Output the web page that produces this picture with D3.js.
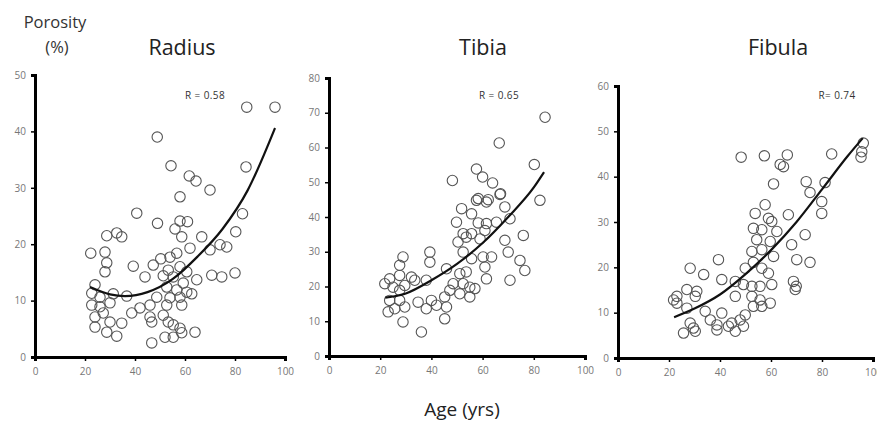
<!DOCTYPE html>
<html>
<head>
<meta charset="utf-8">
<script src="https://cdn.jsdelivr.net/npm/d3@7"></script>
<style>
  body { margin: 0; background: #fff; }
  svg text { font-family: "Open Sans", "Noto Sans", sans-serif; }
</style>
</head>
<body>
<svg id="chart" width="877" height="424"></svg>
<script>
// ---- data: [age (yrs), porosity (%)]
var radiusPts = [
  [84.7,44.3],[96,44.3],[48.9,39],[84.4,33.7],[54.4,33.9],[61.7,32.1],[64.4,31.2],[70,29.6],
  [58,28.4],[40.7,25.5],[49,23.7],[58,24.1],[61,24],[83,25.4],[80.3,22.2],[28.7,21.5],
  [32.7,22],[34.7,21.3],[56,22.7],[58.7,21.3],[66.7,21.3],[22.3,18.4],[28,18.6],[28.7,16.7],
  [28,15.1],[39.3,16.1],[44,14.2],[47.3,16.3],[50.3,17.4],[54,17.7],[56.7,18.4],[62,19.3],
  [70,19],[74,19.9],[76.7,19.5],[70.7,14.5],[74.7,14.2],[80,14.9],[64.7,13.7],[60.7,15.1],
  [58,16],[53.3,15.4],[51.3,14.4],[55.3,14.2],[59.3,13.1],[52.7,12.4],[56.7,11.9],[60.7,11.5],
  [62.7,11.2],[48.7,10.6],[54,10.5],[58,10.6],[58.7,9.2],[52.7,9.2],[46,9.2],[36.7,10.8],
  [31.3,11.2],[24,12.8],[22.7,9.2],[26,8.9],[30,9.6],[27.3,7.8],[24,7.1],[38.7,7.8],
  [42,8.7],[46,7.1],[46.7,6.2],[51.3,7.4],[53.3,6.2],[55.3,5.7],[58,5.1],[58.7,4.3],
  [55.3,3.5],[52,3.5],[46.7,2.5],[64,4.4],[32.7,3.7],[28.7,4.4],[24,5.3],[30,6.2],
  [34.7,6],[26,10.6],[22.7,11.3]
];
var tibiaPts = [
  [84.4,68.7],[66.5,61.3],[80.2,55.1],[48.2,50.5],[57.6,53.8],[60,51.5],[63.9,49.8],[67,46.7],
  [58.3,45.3],[62.2,45],[82.4,44.8],[66.8,46.5],[57.6,44.8],[61.5,44.3],[51.8,42.4],[55.7,40.9],
  [49.8,38.5],[58.3,38.3],[61.5,38.1],[65.4,38.5],[68.7,42.9],[70.7,39.5],[60.9,36.1],[52.4,35.2],
  [55.7,35.2],[59,33.7],[50.4,32.8],[53.6,34.2],[68.7,33.3],[75.9,34.7],[70,29.9],[74.6,27.5],
  [76.5,24.6],[70.7,21.8],[52.4,29.9],[55.7,28],[60.2,28.5],[63.5,28.5],[60.9,25.6],[61.5,22.2],
  [53.6,24.2],[51.1,23.7],[45.9,25.1],[48.5,20.8],[52.4,20.8],[55,19.8],[57,19.4],[51.1,17.9],
  [55,17],[47.2,18.9],[45.2,17],[45.9,14.1],[45.2,10.7],[40,16],[42,14.6],[38,13.6],
  [34.8,15.5],[39.4,27],[39.4,29.9],[38,21.8],[33.5,21.8],[32.2,22.7],[28.9,28.5],[27.6,26.1],
  [27.6,23.2],[23.7,22.2],[21.8,20.8],[25,19.8],[27.6,18.9],[29.6,20.3],[23.7,16],[25.7,13.6],
  [23.1,12.7],[29.6,14.1],[28.9,9.8],[36.1,6.9],[27.6,16]
];
var fibulaPts = [
  [48.3,44.3],[57.4,44.6],[66.4,44.8],[63.6,42.7],[64.9,42.2],[83.8,45],[96.2,47.4],[95.6,45.5],
  [95.3,44.3],[61,38.4],[73.8,38.9],[81.2,38.7],[75.3,36.5],[79.9,34.5],[79.9,31.9],[57.7,33.8],
  [53.8,31.9],[59,30.8],[60.3,30.1],[66.8,31.6],[53.1,28.6],[56.4,28.3],[62.3,27.9],[54.4,26.1],
  [59.7,25.7],[73.4,27.2],[68.1,25],[52.5,23.5],[56.4,23.9],[61,22.4],[70.1,21.7],[75.3,21.1],
  [49.9,19.8],[53.1,21.1],[56.4,19.8],[59,18.7],[60.3,16.2],[55.7,15.8],[52.5,15.8],[49.2,16.2],
  [46,16.9],[46,13.6],[52.5,13.6],[55.7,12.8],[59.7,12.1],[56.4,11.4],[53.1,11.4],[49.9,9.5],
  [47.9,8.4],[44.6,7.7],[49.2,7],[46,5.9],[43.3,7],[40.7,9.9],[38.8,7.3],[38.8,6.2],
  [36.2,8.4],[34.2,10.3],[40.7,17.3],[39.4,21.7],[33.6,18.4],[28.3,19.8],[30.9,14.7],[30.3,13.6],
  [27,15.1],[23.1,13.6],[21.8,12.8],[23.1,12.1],[27,11],[28.3,7.7],[29.6,6.6],[25.7,5.5],
  [30.3,5.9],[68.8,16.9],[69.9,15.8],[69.5,15.1]
];

// fitted curves
var radiusFit = [[22,12.4],[30,11.1],[36,10.8],[45,11.5],[55,13.8],[65,17.8],[75,22.7],[85,29.5],[96,40.6]];
var tibiaFit = [[22,16.8],[30,18],[40,21.8],[50,26.5],[60,32.5],[70,40],[80,48.5],[84,52.9]];
var fibulaFit = [[22,9],[30,10.9],[40,14],[50,18.5],[60,23.8],[70,30],[80,37.2],[90,44.5],[96,48.5]];

var titles = ["Radius", "Tibia", "Fibula"];
var rLabels = ["R = 0.58", "R = 0.65", "R= 0.74"];
var yMaxes = [50, 80, 60];
var xTicks = [0, 20, 40, 60, 80, 100];

// ---- layout of each panel (pixel positions)
var panels = [
  { pts: radiusPts, fit: radiusFit, x0: 35, x1: 285, yb: 357, yt: 75, tx: 182, rx: 205 },
  { pts: tibiaPts, fit: tibiaFit, x0: 329, x1: 585, yb: 356, yt: 78, tx: 483, rx: 499 },
  { pts: fibulaPts, fit: fibulaFit, x0: 618, x1: 873, yb: 358, yt: 86, tx: 778, rx: 837 }
];

var svg = d3.select("#chart");

panels.forEach(function (p, i) {
  var xScale = d3.scaleLinear().domain([0, 100]).range([p.x0, p.x1]);
  var yScale = d3.scaleLinear().domain([0, yMaxes[i]]).range([p.yb, p.yt]);

  var g = svg.append("g");

  // points
  g.append("g")
    .selectAll("circle")
    .data(p.pts)
    .enter()
    .append("circle")
    .attr("cx", d => xScale(d[0]))
    .attr("cy", d => yScale(d[1]))
    .attr("r", 5.2)
    .attr("fill", "none")
    .attr("stroke", "#555")
    .attr("stroke-width", 1.1);

  // fitted curve
  var line = d3.line()
    .x(d => xScale(d[0]))
    .y(d => yScale(d[1]))
    .curve(d3.curveMonotoneX);
  g.append("path")
    .datum(p.fit)
    .attr("d", line)
    .attr("fill", "none")
    .attr("stroke", "#111")
    .attr("stroke-width", 2.2);

  // axes
  var yAxis = d3.axisLeft(yScale)
    .tickValues(d3.range(0, yMaxes[i] + 1, 10))
    .tickSize(4)
    .tickPadding(5);
  var gy = g.append("g")
    .attr("transform", "translate(" + p.x0 + ",0)")
    .call(yAxis);

  var xAxis = d3.axisBottom(xScale)
    .tickValues(xTicks)
    .tickSize(4)
    .tickPadding(7);
  var gx = g.append("g")
    .attr("transform", "translate(0," + p.yb + ")")
    .call(xAxis);

  [gx, gy].forEach(function (ax) {
    ax.select(".domain").attr("stroke", "#000").attr("stroke-width", 3);
    ax.selectAll(".tick line").attr("stroke", "#000").attr("stroke-width", 1.5);
    ax.selectAll(".tick text")
      .attr("fill", "#777")
      .style("font-size", "10px");
  });

  // title
  g.append("text")
    .attr("x", p.tx)
    .attr("y", 55)
    .attr("text-anchor", "middle")
    .style("font-size", "21.5px")
    .attr("fill", "#222")
    .text(titles[i]);

  // R label
  g.append("text")
    .attr("x", p.rx)
    .attr("y", 99)
    .attr("text-anchor", "middle")
    .style("font-size", "10px")
    .style("letter-spacing", "0.4px")
    .attr("fill", "#333")
    .text(rLabels[i]);
});

// y label
svg.append("text")
  .attr("x", 55).attr("y", 28)
  .attr("text-anchor", "middle")
  .style("font-size", "16.5px").attr("fill", "#333")
  .text("Porosity");
svg.append("text")
  .attr("x", 57).attr("y", 53)
  .attr("text-anchor", "middle")
  .style("font-size", "16.5px").attr("fill", "#333")
  .text("(%)");

// x label
svg.append("text")
  .attr("x", 462).attr("y", 416)
  .attr("text-anchor", "middle")
  .style("font-size", "19px").attr("fill", "#222")
  .text("Age (yrs)");
</script>
</body>
</html>
